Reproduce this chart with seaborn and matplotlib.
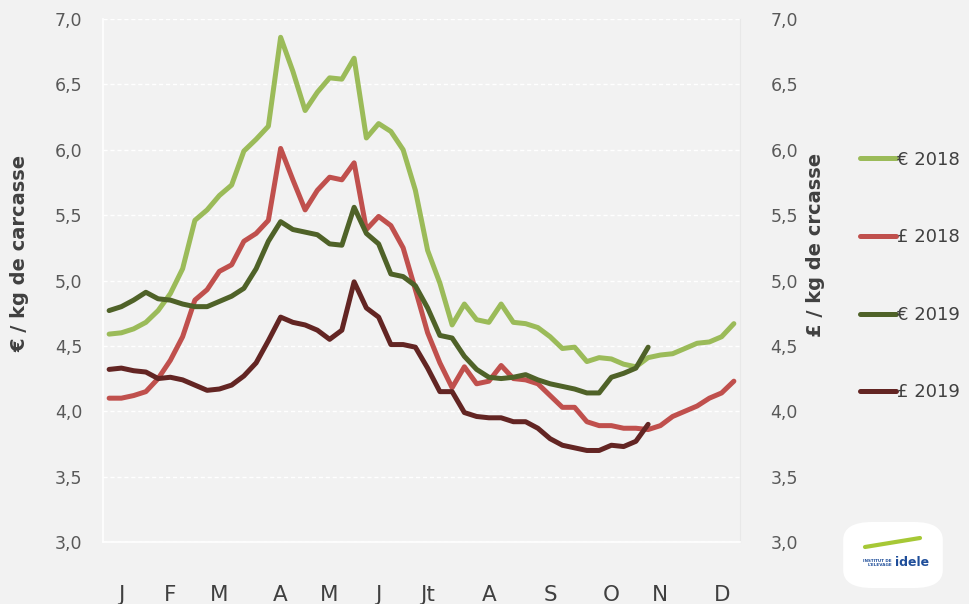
import numpy as np
import pandas as pd
import matplotlib.pyplot as plt
import seaborn as sns
from matplotlib.patches import FancyBboxPatch

# prix hebdomadaires (semaines 1 a 52)
eur_2018 = [4.59, 4.60, 4.63, 4.68, 4.77, 4.90, 5.09, 5.46, 5.54, 5.65, 5.73, 5.99, 6.08,
            6.18, 6.86, 6.60, 6.30, 6.44, 6.55, 6.54, 6.70, 6.09, 6.20, 6.14, 6.00, 5.69,
            5.23, 4.98, 4.66, 4.82, 4.70, 4.68, 4.82, 4.68, 4.67, 4.64, 4.57, 4.48, 4.49,
            4.38, 4.41, 4.40, 4.36, 4.34, 4.41, 4.43, 4.44, 4.48, 4.52, 4.53, 4.57, 4.67]
gbp_2018 = [4.10, 4.10, 4.12, 4.15, 4.25, 4.39, 4.57, 4.85, 4.93, 5.07, 5.12, 5.30, 5.36,
            5.46, 6.01, 5.77, 5.54, 5.69, 5.79, 5.77, 5.90, 5.39, 5.49, 5.42, 5.25, 4.93,
            4.60, 4.37, 4.18, 4.34, 4.21, 4.23, 4.35, 4.25, 4.24, 4.21, 4.12, 4.03, 4.03,
            3.92, 3.89, 3.89, 3.87, 3.87, 3.86, 3.89, 3.96, 4.00, 4.04, 4.10, 4.14, 4.23]
eur_2019 = [4.77, 4.80, 4.85, 4.91, 4.86, 4.85, 4.82, 4.80, 4.80, 4.84, 4.88, 4.94, 5.09,
            5.30, 5.45, 5.39, 5.37, 5.35, 5.28, 5.27, 5.56, 5.36, 5.28, 5.05, 5.03, 4.96,
            4.79, 4.58, 4.56, 4.42, 4.32, 4.26, 4.25, 4.26, 4.28, 4.24, 4.21, 4.19, 4.17,
            4.14, 4.14, 4.26, 4.29, 4.33, 4.49]
gbp_2019 = [4.32, 4.33, 4.31, 4.30, 4.25, 4.26, 4.24, 4.20, 4.16, 4.17, 4.20, 4.27, 4.37,
            4.54, 4.72, 4.68, 4.66, 4.62, 4.55, 4.62, 4.99, 4.79, 4.72, 4.51, 4.51, 4.49,
            4.33, 4.15, 4.15, 3.99, 3.96, 3.95, 3.95, 3.92, 3.92, 3.87, 3.79, 3.74, 3.72,
            3.70, 3.70, 3.74, 3.73, 3.77, 3.90]

series = {'€ 2018': eur_2018, '£ 2018': gbp_2018, '€ 2019': eur_2019, '£ 2019': gbp_2019}
colors = {'€ 2018': '#9BBB59', '£ 2018': '#C0504D', '€ 2019': '#4F6228', '£ 2019': '#632523'}

df = pd.concat([pd.DataFrame({'semaine': range(len(v)), 'prix': v, 'serie': k})
                for k, v in series.items()], ignore_index=True)

mois = ['J', 'F', 'M', 'A', 'M', 'J', 'Jt', 'A', 'S', 'O', 'N', 'D']
pos_mois = [1, 5, 9, 14, 18, 22, 26, 31, 36, 41, 45, 50]

sns.set_style('white', {'axes.facecolor': '#F2F2F2', 'figure.facecolor': '#F2F2F2'})
plt.rcParams['font.family'] = ['DejaVu Sans']

fig = plt.figure(figsize=(9.69, 6.04), dpi=100)
ax = fig.add_axes([103 / 969, 1 - 542 / 604, 637 / 969, 523 / 604])

sns.lineplot(data=df, x='semaine', y='prix', hue='serie', palette=colors,
             linewidth=3.6, ax=ax, legend=False)

ax.set_xlim(-0.5, 51.5)
ax.set_ylim(3.0, 7.0)
yt = np.arange(3.0, 7.01, 0.5)
ax.set_yticks(yt)
ax.set_yticklabels([f'{v:.1f}'.replace('.', ',') for v in yt])
ax.set_xticks(pos_mois)
ax.set_xticklabels(mois)
ax.set_xticks(np.arange(-0.5, 52, 1), minor=True)
ax.tick_params(axis='x', which='major', length=0, pad=31, labelsize=15.5, labelcolor='#404040')
ax.tick_params(axis='x', which='minor', length=6, width=1, color='white', direction='out')
ax.tick_params(axis='y', length=0, pad=15, labelsize=12.5, labelcolor='#595959')
ax.grid(axis='y', color='white', linestyle=(0, (3, 2)), linewidth=1)
ax.set_axisbelow(True)
for s in ['left', 'bottom']:
    ax.spines[s].set_color('white')
    ax.spines[s].set_linewidth(1.2)
ax.spines['top'].set_visible(False)
ax.spines['right'].set_color('#E8E8E8')
ax.set_xlabel('')
ax.set_ylabel('€ / kg de carcasse', fontsize=14, fontweight='bold', color='#404040', va='center')
ax.yaxis.set_label_coords(-0.130, 0.551)

ax2 = ax.twinx()
ax2.set_ylim(3.0, 7.0)
ax2.set_yticks(yt)
ax2.set_yticklabels([f'{v:.1f}'.replace('.', ',') for v in yt])
ax2.tick_params(axis='y', length=0, pad=22, labelsize=12.5, labelcolor='#595959')
for s in ax2.spines.values():
    s.set_visible(False)
ax2.set_ylabel('£ / kg de crcasse', fontsize=14, fontweight='bold', color='#404040', va='center')
ax2.yaxis.set_label_coords(1.118, 0.568)

handles = [plt.Line2D([], [], color=colors[k], linewidth=3.6) for k in series]
fig.legend(handles, list(series), loc='center left', bbox_to_anchor=(0.887, 0.543),
           frameon=False, fontsize=13, labelcolor='#404040', handlelength=2.0,
           handletextpad=0.1, labelspacing=3.3, borderpad=0, borderaxespad=0)

# logo
fig.patches.append(FancyBboxPatch((848 / 969, 1 - 585 / 604), 90 / 969, 60 / 604,
                                  boxstyle='round,pad=0.005,rounding_size=0.03',
                                  transform=fig.transFigure, facecolor='white',
                                  edgecolor='none'))
fig.text(892 / 969, 1 - 563 / 604, "INSTITUT DE\nL'ELEVAGE", fontsize=3, color='#1F4E9A',
         fontweight='bold', ha='right', va='center', linespacing=1.0)
fig.text(895 / 969, 1 - 563 / 604, 'idele', fontsize=9, color='#1F4E9A',
         fontweight='bold', ha='left', va='center')
fig.lines.append(plt.Line2D([865 / 969, 920 / 969], [1 - 547 / 604, 1 - 538 / 604],
                            transform=fig.transFigure, color='#A6C836', linewidth=3))

fig.savefig('out.png', dpi=100, facecolor='#F2F2F2')
